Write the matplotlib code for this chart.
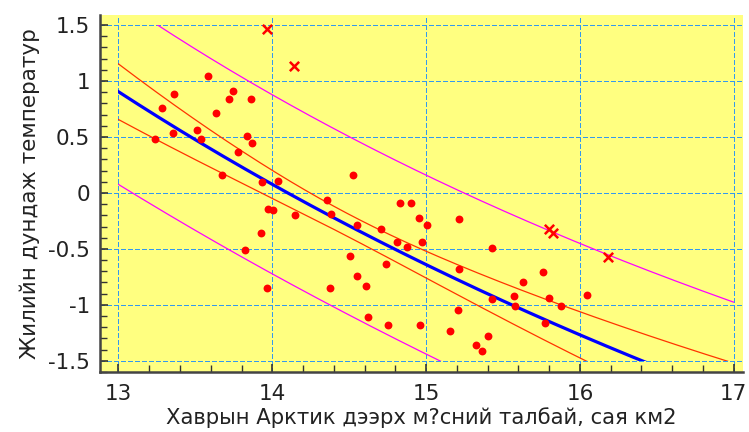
import numpy as np
import matplotlib
matplotlib.use("Agg")
import matplotlib.pyplot as plt
from matplotlib.patches import Rectangle
from matplotlib.ticker import MultipleLocator

plt.rcParams['font.family'] = ['DejaVu Sans']

# fitted points (dots)
x_pts = [13.239, 13.281, 13.359, 13.352, 13.510, 13.534, 13.584, 13.632,
         13.671, 13.718, 13.742, 13.775, 13.835, 13.870, 13.861, 13.822,
         13.926, 13.935, 13.970, 14.007, 14.037, 13.963, 14.148, 14.356,
         14.380, 14.377, 14.523, 14.505, 14.553, 14.553, 14.609, 14.624,
         14.707, 14.737, 14.750, 14.809, 14.832, 14.904, 14.878, 14.954,
         14.962, 14.975, 15.006, 15.158, 15.205, 15.214, 15.214, 15.325,
         15.363, 15.405, 15.427, 15.427, 15.572, 15.578, 15.628, 15.762,
         15.775, 15.801, 15.879, 16.048]
y_pts = [0.482, 0.755, 0.880, 0.536, 0.559, 0.482, 1.047, 0.714,
         0.163, 0.839, 0.911, 0.366, 0.509, 0.443, 0.839, -0.512,
         -0.361, 0.098, -0.143, -0.152, 0.110, -0.852, -0.200, -0.060,
         -0.188, -0.848, 0.161, -0.560, -0.286, -0.744, -0.834, -1.111,
         -0.319, -0.631, -1.182, -0.441, -0.089, -0.089, -0.482, -0.227,
         -1.182, -0.441, -0.286, -1.232, -1.048, -0.236, -0.679, -1.357,
         -1.411, -1.274, -0.495, -0.944, -0.920, -1.012, -0.795, -0.703,
         -1.161, -0.941, -1.012, -0.914]

# excluded points (crosses)
x_out = [13.963, 14.143, 15.797, 15.825, 16.183]
y_out = [1.467, 1.137, -0.321, -0.358, -0.571]

x_ticks = [13, 14, 15, 16, 17]
y_ticks = [-1.5, -1, -0.5, 0, 0.5, 1, 1.5]
y_ticklabels = ['-1.5', '-1', '-0.5', '0', '0.5', '1', '1.5']

x_label = 'Хаврын Арктик дээрх м?сний талбай, сая км2'
y_label = 'Жилийн дундаж температур'

t_95 = 2.0017  # Student t, 95%, df = n - 2 = 58

# reciprocal-X model  y = a + b / x, fitted on the dots only
u = 1.0 / np.array(x_pts)
ya = np.array(y_pts)
n = len(u)
um, ym = u.mean(), ya.mean()
suu = ((u - um) ** 2).sum()
b1 = ((u - um) * (ya - ym)).sum() / suu
b0 = ym - b1 * um
res = ya - (b0 + b1 * u)
s = np.sqrt((res ** 2).sum() / (n - 2))

xg = np.linspace(13, 17, 400)
ug = 1.0 / xg
yf = b0 + b1 * ug
conf = t_95 * s * np.sqrt(1 / n + (ug - um) ** 2 / suu)
pred = t_95 * s * np.sqrt(1 + 1 / n + (ug - um) ** 2 / suu)

fig = plt.figure(figsize=(7.49, 4.32), dpi=100)
ax = fig.add_axes([100 / 749, 60 / 432, 643 / 749, 357 / 432])
ax.set_facecolor('#FFFF80')
ax.set_xlim(12.88, 17.06)
ax.set_ylim(-1.6, 1.59)

for v in x_ticks:
    ax.axvline(v, color='#3399EE', lw=1.0, ls=(0, (3, 2)), zorder=1, antialiased=False)
for v in y_ticks:
    ax.axhline(v, color='#3399EE', lw=1.0, ls=(0, (3, 2)), zorder=1, antialiased=False)

clip = Rectangle((13, -1.5), 4, 3, transform=ax.transData)
lines = []
lines += ax.plot(xg, yf + pred, color='#FF00FF', lw=0.9, zorder=2)
lines += ax.plot(xg, yf - pred, color='#FF00FF', lw=0.9, zorder=2)
lines += ax.plot(xg, yf + conf, color='#FF3300', lw=0.9, zorder=2)
lines += ax.plot(xg, yf - conf, color='#FF3300', lw=0.9, zorder=2)
lines += ax.plot(xg, yf, color='#0000FF', lw=2.3, zorder=3)
for ln in lines:
    ln.set_clip_path(clip)

ax.scatter(x_pts, y_pts, s=32, color='#FF0000', zorder=4, linewidths=0)
ax.scatter(x_out, y_out, s=45, marker='x', color='#FF0000', linewidths=1.8, zorder=4)

ax.set_xticks(x_ticks)
ax.set_yticks(y_ticks)
ax.set_yticklabels(y_ticklabels)
ax.xaxis.set_minor_locator(MultipleLocator(0.2))
ax.yaxis.set_minor_locator(MultipleLocator(0.1))
ax.tick_params(which='both', direction='in', colors='#333333', labelcolor='#222222',
               labelsize=15.5, top=False, right=False)
ax.tick_params(which='major', length=6, width=1.2)
ax.tick_params(which='minor', length=5, width=1.0)
ax.tick_params(axis='x', pad=9)
ax.tick_params(axis='y', pad=7)

for sp in ['top', 'right']:
    ax.spines[sp].set_visible(False)
for sp in ['left', 'bottom']:
    ax.spines[sp].set_color('#444444')
    ax.spines[sp].set_linewidth(1.8)

ax.set_xlabel(x_label, fontsize=15.2, color='#222222', labelpad=2)
ax.set_ylabel(y_label, fontsize=15.5, color='#222222', labelpad=6)

fig.savefig('out.png', dpi=100, facecolor='white')
